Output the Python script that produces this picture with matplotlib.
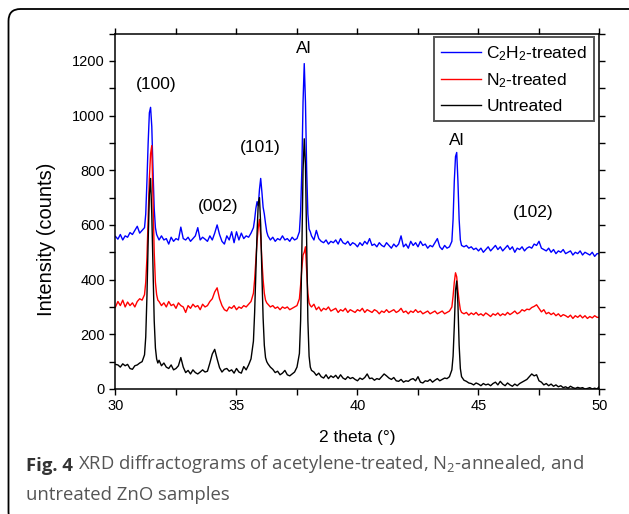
import numpy as np
import matplotlib
matplotlib.use("Agg")
import matplotlib.pyplot as plt
from matplotlib.patches import FancyBboxPatch

plt.rcParams["font.family"] = ["Liberation Sans", "DejaVu Sans"]
plt.rcParams["mathtext.default"] = "regular"

# 2 theta sampling: 0.1 deg steps, 0.05 deg around the strong peaks
segments = [(30.0, 31.2, 0.1), (31.25, 31.75, 0.05), (31.8, 35.7, 0.1),
            (35.75, 36.25, 0.05), (36.3, 37.6, 0.1), (37.65, 38.05, 0.05),
            (38.1, 43.9, 0.1), (43.95, 44.3, 0.05), (44.4, 50.0, 0.1)]
two_theta = np.concatenate([np.round(np.arange(a, b + s / 2, s), 2) for a, b, s in segments])

# C2H2-treated
c2h2 = [558, 548, 565, 545, 560, 555, 572, 565, 580, 595, 570, 580, 590,
        640, 760, 900, 1010, 1030, 960, 800, 660, 590, 565, 555,
        545, 560, 545, 550, 530, 555, 540, 550, 545, 592,
        550, 545, 555, 540, 550, 560, 590, 545, 555, 548,
        540, 560, 545, 570, 600, 565, 540, 530, 560, 545,
        575, 535, 575, 545, 570, 550, 560, 555, 570, 590,
        620, 660, 685, 670, 730, 770, 720, 665, 640, 605, 575,
        560, 545, 555, 540, 550, 545, 560, 545, 550, 540, 555, 545, 550, 575,
        650, 800, 1050, 1190, 1050, 800, 640, 585, 575,
        560, 545, 580, 550, 540, 535, 545, 530, 540, 535,
        545, 530, 550, 535, 530, 540, 525, 535, 530, 520,
        535, 525, 540, 530, 550, 525, 530, 520, 535, 525,
        520, 535, 525, 515, 530, 520, 530, 560, 520, 530,
        515, 540, 525, 535, 520, 540, 525, 530, 515, 525,
        520, 535, 550, 520, 510, 525, 515, 520, 540,
        620, 760, 850, 865, 760, 620, 545, 525,
        520, 525, 515, 520, 510, 515, 505, 515, 500, 510,
        520, 505, 515, 525, 510, 520, 505, 515, 525, 510,
        520, 500, 515, 510, 520, 505, 515, 520, 515, 530,
        525, 540, 515, 510, 505, 515, 500, 510, 495, 505,
        500, 510, 495, 500, 505, 490, 500, 495, 505, 490,
        500, 495, 490, 500, 485, 495, 495]

# N2-treated
n2 = [300, 320, 305, 325, 300, 318, 305, 315, 300, 320, 330, 325, 345,
      390, 480, 620, 770, 860, 890, 700, 500, 390, 345, 325,
      320, 305, 315, 300, 320, 305, 310, 295, 315, 305,
      300, 280, 305, 295, 310, 300, 305, 290, 310, 300,
      305, 320, 330, 355, 370, 330, 305, 290, 285, 300,
      295, 305, 290, 300, 295, 305, 300, 310, 320, 350,
      400, 470, 540, 590, 620, 560, 470, 400, 350, 325, 315,
      310, 300, 305, 295, 300, 290, 300, 295, 300, 290, 295, 300, 305, 330,
      380, 440, 490, 500, 520, 430, 350, 315, 305,
      300, 310, 290, 300, 285, 295, 290, 300, 285, 290,
      295, 280, 290, 285, 295, 280, 290, 285, 280, 290,
      285, 295, 280, 290, 285, 280, 290, 285, 275, 285,
      280, 290, 280, 285, 290, 280, 285, 295, 280, 285,
      275, 285, 280, 290, 280, 285, 275, 280, 285, 275,
      280, 285, 275, 280, 285, 275, 280, 285, 300,
      340, 390, 425, 410, 360, 320, 290, 280,
      275, 280, 270, 278, 272, 280, 270, 275, 268, 278,
      272, 265, 275, 270, 278, 268, 275, 270, 280, 272,
      278, 285, 275, 280, 290, 285, 292, 290, 298, 302,
      308, 295, 282, 290, 275, 280, 272, 278, 268, 275,
      265, 272, 268, 262, 270, 258, 268, 262, 270, 260,
      268, 258, 265, 260, 268, 262, 262]

# Untreated
untreated = [90, 88, 80, 92, 85, 90, 75, 72, 85, 88, 95, 100, 125,
             190, 340, 540, 710, 770, 640, 440, 250, 150, 110, 95,
             105, 85, 95, 80, 75, 88, 70, 75, 85, 115,
             80, 60, 68, 55, 70, 60, 55, 62, 70, 62,
             65, 95, 128, 145, 110, 78, 62, 72, 75, 65,
             70, 58, 75, 62, 58, 82, 70, 88, 110, 175,
             280, 420, 570, 680, 700, 600, 420, 260, 160, 115, 100,
             92, 80, 72, 60, 65, 52, 58, 68, 52, 48, 55, 62, 80, 130,
             250, 500, 800, 915, 820, 540, 250, 120, 80,
             68, 62, 50, 58, 45, 40, 52, 38, 48, 42,
             50, 38, 52, 40, 35, 45, 38, 42, 35, 30,
             40, 35, 42, 55, 38, 40, 32, 38, 35, 45,
             55, 48, 40, 35, 42, 30, 28, 35, 25, 30,
             28, 35, 38, 30, 45, 25, 22, 30, 28, 35,
             25, 32, 38, 30, 35, 40, 38, 45, 70,
             120, 230, 360, 395, 310, 160, 75, 45,
             32, 28, 22, 20, 15, 22, 18, 12, 20, 15,
             18, 12, 20, 25, 15, 28, 18, 12, 22, 15,
             10, 18, 12, 20, 25, 30, 35, 45, 55, 48,
             52, 30, 25, 15, 20, 12, 18, 10, 15, 8,
             12, 5, 8, 3, 10, 5, 2, 6, 3, 5,
             0, 2, 5, 0, 3, 0, 10]

peak_labels = ["(100)", "(002)", "(101)", "Al", "Al", "(102)"]
peak_pos = [31.7, 34.25, 36.0, 37.76, 44.1, 47.26]
peak_height = [1115, 667, 884, 1246, 910, 645]

fig = plt.figure(figsize=(6.29, 5.14), dpi=100)
ax = fig.add_axes([0.1836, 0.2432, 0.7695, 0.6916])

ax.plot(two_theta, c2h2, color="#0000ff", lw=1.0, label=r"C$_2$H$_2$-treated")
ax.plot(two_theta, n2, color="#ff0000", lw=1.0, label=r"N$_2$-treated")
ax.plot(two_theta, untreated, color="black", lw=1.0, label="Untreated")

for lab, x, y in zip(peak_labels, peak_pos, peak_height):
    ax.text(x, y, lab, ha="center", va="center", fontsize=12.5)

ax.set_xlim(30, 50)
ax.set_ylim(0, 1300)
ax.set_xticks([30, 35, 40, 45, 50])
ax.set_xticks(np.arange(30, 50.1, 2.5), minor=True)
ax.set_yticks(np.arange(0, 1201, 200))
ax.set_yticks(np.arange(0, 1301, 100), minor=True)
ax.tick_params(which="both", direction="out", top=True, right=True, width=1.0, labelsize=10.5)
ax.tick_params(which="major", length=4)
ax.tick_params(which="minor", length=4)
for sp in ax.spines.values():
    sp.set_linewidth(1.1)

ax.set_xlabel("2 theta (°)", fontsize=12.5, labelpad=12)
ax.set_ylabel("Intensity (counts)", fontsize=14.5)
ax.yaxis.set_label_coords(-0.122, 0.42)

leg = ax.legend(loc="upper right", bbox_to_anchor=(0.989, 0.991), borderaxespad=0,
                fontsize=12.5, fancybox=False, framealpha=1, edgecolor="#555555",
                handlelength=2.3, handletextpad=0.3, labelspacing=0.5, borderpad=0.42)
leg.get_frame().set_linewidth(1.4)

# rounded outer frame (clipped at right and bottom)
frame = FancyBboxPatch((0.085, -0.1), 6.6, 5.15, boxstyle="round,pad=0,rounding_size=0.12",
                       transform=fig.dpi_scale_trans, fill=False, ec="black", lw=1.3)
fig.add_artist(frame)

cap_font = ["Open Sans", "DejaVu Sans"]
t1 = fig.text(26 / 629, 1 - 466 / 514, "Fig. 4", fontsize=13.3, fontweight="bold",
              color="#333333", family=cap_font, va="center")
ax.annotate(r"XRD diffractograms of acetylene-treated, N$_2$-annealed, and",
            xy=(1, 0), xycoords=t1, xytext=(4, 0), textcoords="offset points",
            fontsize=13.3, color="#555555", family=cap_font, va="bottom",
            annotation_clip=False)
fig.text(26 / 629, 1 - 495 / 514, "untreated ZnO samples", fontsize=13.3,
         color="#555555", family=cap_font, va="center")

fig.savefig("out.png", dpi=100)
